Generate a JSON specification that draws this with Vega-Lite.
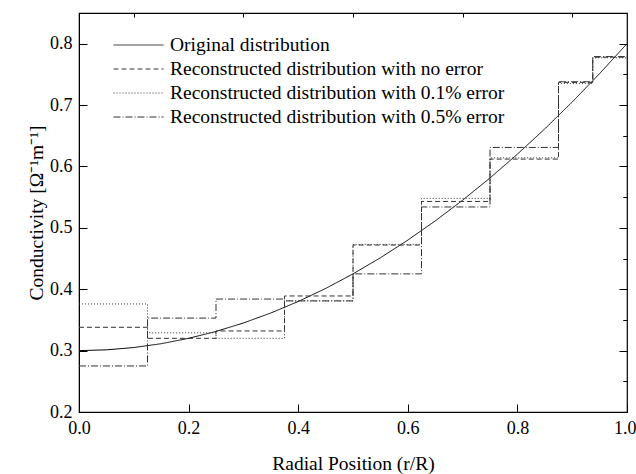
{
  "$schema": "https://vega.github.io/schema/vega-lite/v6.json",
  "width": 548,
  "height": 399,
  "autosize": "none",
  "padding": {"left": 79, "top": 13, "right": 9, "bottom": 62},
  "config": {
    "view": {"stroke": "black", "strokeWidth": 1.2},
    "font": "Liberation Serif",
    "axis": {"labelFont": "Liberation Serif", "titleFont": "Liberation Serif", "labelFontSize": 18, "titleFontSize": 19.5, "titleFontWeight": "normal", "labelColor": "black", "titleColor": "black", "domainColor": "black", "tickColor": "black", "grid": false},
    "legend": {"labelFont": "Liberation Serif", "labelLimit": 0}
  },
  "datasets": {
    "d": [
      {"series": "Original distribution", "r": 0, "v": 0.3},
      {"series": "Original distribution", "r": 0.05, "v": 0.30125},
      {"series": "Original distribution", "r": 0.1, "v": 0.305},
      {"series": "Original distribution", "r": 0.15, "v": 0.31125},
      {"series": "Original distribution", "r": 0.2, "v": 0.32},
      {"series": "Original distribution", "r": 0.25, "v": 0.33125},
      {"series": "Original distribution", "r": 0.3, "v": 0.345},
      {"series": "Original distribution", "r": 0.35, "v": 0.36125},
      {"series": "Original distribution", "r": 0.4, "v": 0.38},
      {"series": "Original distribution", "r": 0.45, "v": 0.40125},
      {"series": "Original distribution", "r": 0.5, "v": 0.425},
      {"series": "Original distribution", "r": 0.55, "v": 0.45125},
      {"series": "Original distribution", "r": 0.6, "v": 0.48},
      {"series": "Original distribution", "r": 0.65, "v": 0.51125},
      {"series": "Original distribution", "r": 0.7, "v": 0.545},
      {"series": "Original distribution", "r": 0.75, "v": 0.58125},
      {"series": "Original distribution", "r": 0.8, "v": 0.62},
      {"series": "Original distribution", "r": 0.85, "v": 0.66125},
      {"series": "Original distribution", "r": 0.9, "v": 0.705},
      {"series": "Original distribution", "r": 0.95, "v": 0.75125},
      {"series": "Original distribution", "r": 1.0, "v": 0.8},
      {"series": "Reconstructed distribution with no error", "r": 0, "v": 0.338},
      {"series": "Reconstructed distribution with no error", "r": 0.125, "v": 0.320},
      {"series": "Reconstructed distribution with no error", "r": 0.25, "v": 0.332},
      {"series": "Reconstructed distribution with no error", "r": 0.375, "v": 0.389},
      {"series": "Reconstructed distribution with no error", "r": 0.5, "v": 0.472},
      {"series": "Reconstructed distribution with no error", "r": 0.625, "v": 0.543},
      {"series": "Reconstructed distribution with no error", "r": 0.75, "v": 0.612},
      {"series": "Reconstructed distribution with no error", "r": 0.875, "v": 0.737},
      {"series": "Reconstructed distribution with no error", "r": 0.9375, "v": 0.778},
      {"series": "Reconstructed distribution with no error", "r": 1.0, "v": 0.778},
      {"series": "Reconstructed distribution with 0.1% error", "r": 0, "v": 0.376},
      {"series": "Reconstructed distribution with 0.1% error", "r": 0.125, "v": 0.329},
      {"series": "Reconstructed distribution with 0.1% error", "r": 0.25, "v": 0.320},
      {"series": "Reconstructed distribution with 0.1% error", "r": 0.375, "v": 0.381},
      {"series": "Reconstructed distribution with 0.1% error", "r": 0.5, "v": 0.473},
      {"series": "Reconstructed distribution with 0.1% error", "r": 0.625, "v": 0.548},
      {"series": "Reconstructed distribution with 0.1% error", "r": 0.75, "v": 0.614},
      {"series": "Reconstructed distribution with 0.1% error", "r": 0.875, "v": 0.735},
      {"series": "Reconstructed distribution with 0.1% error", "r": 0.9375, "v": 0.777},
      {"series": "Reconstructed distribution with 0.1% error", "r": 1.0, "v": 0.777},
      {"series": "Reconstructed distribution with 0.5% error", "r": 0, "v": 0.275},
      {"series": "Reconstructed distribution with 0.5% error", "r": 0.125, "v": 0.353},
      {"series": "Reconstructed distribution with 0.5% error", "r": 0.25, "v": 0.384},
      {"series": "Reconstructed distribution with 0.5% error", "r": 0.375, "v": 0.381},
      {"series": "Reconstructed distribution with 0.5% error", "r": 0.5, "v": 0.425},
      {"series": "Reconstructed distribution with 0.5% error", "r": 0.625, "v": 0.534},
      {"series": "Reconstructed distribution with 0.5% error", "r": 0.75, "v": 0.631},
      {"series": "Reconstructed distribution with 0.5% error", "r": 0.875, "v": 0.738},
      {"series": "Reconstructed distribution with 0.5% error", "r": 0.9375, "v": 0.779},
      {"series": "Reconstructed distribution with 0.5% error", "r": 1.0, "v": 0.779}
    ]
  },
  "data": {"name": "d"},
  "resolve": {"axis": {"x": "independent", "y": "independent"}},
  "layer": [
    {
      "transform": [{"filter": "datum.series === 'Original distribution'"}],
      "mark": {"type": "line", "color": "black", "strokeWidth": 1, "clip": true},
      "encoding": {
        "x": {"field": "r", "type": "quantitative", "scale": {"domain": [0, 1], "nice": false},
          "axis": {"values": [0, 0.2, 0.4, 0.6, 0.8, 1.0], "format": ".1f", "tickSize": -8, "labelPadding": 15, "title": "Radial Position (r/R)", "titlePadding": 17, "labelFlush": false, "labelBound": false,
            "labelAlign": {"condition": {"test": "datum.value == 1", "value": "right"}, "value": "center"},
            "labelOffset": {"condition": {"test": "datum.value == 1", "value": 9}, "value": 0}}},
        "y": {"field": "v", "type": "quantitative", "scale": {"domain": [0.2, 0.85], "nice": false, "zero": false},
          "axis": {"values": [0.2, 0.3, 0.4, 0.5, 0.6, 0.7, 0.8], "format": ".1f", "tickSize": -8, "labelPadding": 15, "title": "Conductivity [Ω⁻¹m⁻¹]", "titlePadding": 3, "labelFlush": false}},
        "strokeDash": {"field": "series", "type": "nominal",
          "scale": {"domain": ["Original distribution", "Reconstructed distribution with no error", "Reconstructed distribution with 0.1% error", "Reconstructed distribution with 0.5% error"],
            "range": [[1, 0], [5, 3], [1, 2], [7, 2, 1, 2]]},
          "legend": {"orient": "none", "legendX": 34, "legendY": 22, "title": null, "symbolType": "stroke", "symbolSize": 2500, "symbolStrokeWidth": 1, "symbolStrokeColor": "black", "labelFontSize": 19.5, "labelColor": "black", "labelLimit": 0, "clipHeight": 20, "rowPadding": 4, "labelOffset": 6}}
      }
    },
    {
      "transform": [{"filter": "datum.series !== 'Original distribution'"}],
      "mark": {"type": "line", "color": "#333333", "strokeWidth": 1, "interpolate": "step-after", "clip": true},
      "encoding": {
        "x": {"field": "r", "type": "quantitative", "axis": null},
        "y": {"field": "v", "type": "quantitative", "axis": null},
        "strokeDash": {"field": "series", "type": "nominal"}
      }
    },
    {
      "mark": {"type": "point", "opacity": 0},
      "encoding": {
        "x": {"field": "r", "type": "quantitative", "axis": {"values": [0.1, 0.3, 0.5, 0.7, 0.9], "tickSize": -4, "labels": false, "domain": false, "title": null}},
        "y": {"field": "v", "type": "quantitative", "axis": {"values": [0.25, 0.35, 0.45, 0.55, 0.65, 0.75], "tickSize": -4, "labels": false, "domain": false, "title": null}}
      }
    },
    {
      "mark": {"type": "point", "opacity": 0},
      "encoding": {
        "x": {"field": "r", "type": "quantitative", "axis": null},
        "y": {"field": "v", "type": "quantitative", "axis": {"orient": "right", "values": [0.2, 0.3, 0.4, 0.5, 0.6, 0.7, 0.8], "tickSize": -8, "labels": false, "domain": false, "title": null}}
      }
    },
    {
      "mark": {"type": "point", "opacity": 0},
      "encoding": {
        "x": {"field": "r", "type": "quantitative", "axis": null},
        "y": {"field": "v", "type": "quantitative", "axis": {"orient": "right", "values": [0.25, 0.35, 0.45, 0.55, 0.65, 0.75], "tickSize": -4, "labels": false, "domain": false, "title": null}}
      }
    }
  ]
}
